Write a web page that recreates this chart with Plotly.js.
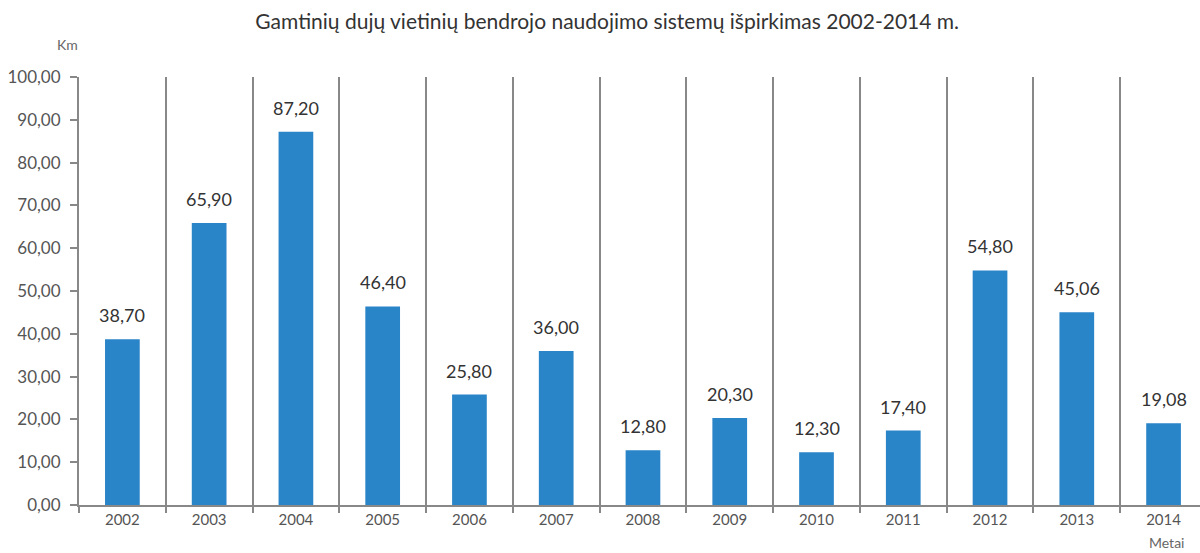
<!DOCTYPE html>
<html><head><meta charset="utf-8">
<script src="https://cdn.plot.ly/plotly-3.0.1.min.js"></script>
<style>html,body{margin:0;padding:0;background:#fff}#c{width:1200px;height:553px}</style>
</head><body><div id="c"></div>
<script>
const years = ['2002','2003','2004','2005','2006','2007','2008','2009','2010','2011','2012','2013','2014'];
const values = [38.70, 65.90, 87.20, 46.40, 25.80, 36.00, 12.80, 20.30, 12.30, 17.40, 54.80, 45.06, 19.08];
const yTicks = [0,10,20,30,40,50,60,70,80,90,100];

const font = 'Lato, "Open Sans", sans-serif';
const idx = years.map((_, i) => i);
const boundaries = years.map((_, i) => i + 0.5);

const trace = {
  type: 'bar', x: idx, y: values,
  width: 0.4,
  marker: {color: '#2a84c8'},
  hoverinfo: 'none'
};

const annotations = values.map((v, i) => ({
  x: i, y: v, xref: 'x', yref: 'y',
  text: v.toFixed(2).replace('.', ','),
  showarrow: false, yanchor: 'bottom', yshift: 11,
  font: {family: font, size: 18, color: '#333'}
}));
annotations.push({xref:'paper', yref:'paper', x:0, y:1, xanchor:'right', yanchor:'bottom',
  xshift: 1, yshift: 22,
  text:'Km', showarrow:false, font:{family:font, size:14, color:'#666'}});
annotations.push({xref:'paper', yref:'paper', x:0.9705, y:0, xanchor:'center', yanchor:'top',
  yshift: -27,
  text:'Metai', showarrow:false, font:{family:font, size:14, color:'#666'}});

const xr = [-0.5, 12.42];
const layout = {
  width: 1200, height: 553,
  margin: {l: 79, r: 0, t: 77, b: 48},
  paper_bgcolor: '#fff', plot_bgcolor: '#fff',
  separators: ',.',
  title: {text: 'Gamtinių dujų vietinių bendrojo naudojimo sistemų išpirkimas 2002-2014 m.',
    font: {family: font, size: 21, color: '#333'}, x: 0.506, xanchor: 'center', y: 0.96, yanchor: 'middle'},
  showlegend: false,
  xaxis: {
    range: xr, tickmode: 'array', tickvals: idx, ticktext: years,
    showgrid: false, zeroline: false, showline: true, linecolor: '#888', linewidth: 2,
    ticks: '', tickfont: {family: font, size: 15, color: '#555'}, ticklen: 0
  },
  xaxis2: {
    overlaying: 'x', range: xr, tickmode: 'array', tickvals: [-0.5].concat(boundaries),
    showticklabels: false, showgrid: true, gridcolor: '#888', gridwidth: 2,
    ticks: 'outside', ticklen: 7, tickwidth: 2, tickcolor: '#888', zeroline: false, showline: false,
    side: 'bottom', anchor: 'y'
  },
  yaxis: {
    range: [0, 100], tickmode: 'array', tickvals: yTicks, tickformat: '.2f',
    showgrid: false, zeroline: false, showline: true, linecolor: '#888', linewidth: 2,
    ticks: 'outside', ticklen: 7, tickwidth: 2, tickcolor: '#888',
    ticklabelstandoff: 6,
    tickfont: {family: font, size: 17, color: '#555'}
  },
  annotations: annotations
};

const gridTrace = {type:'scatter', x:[], y:[], xaxis:'x2', yaxis:'y', hoverinfo:'none'};
Plotly.newPlot('c', [gridTrace, trace], layout, {staticPlot: true});
</script></body></html>
